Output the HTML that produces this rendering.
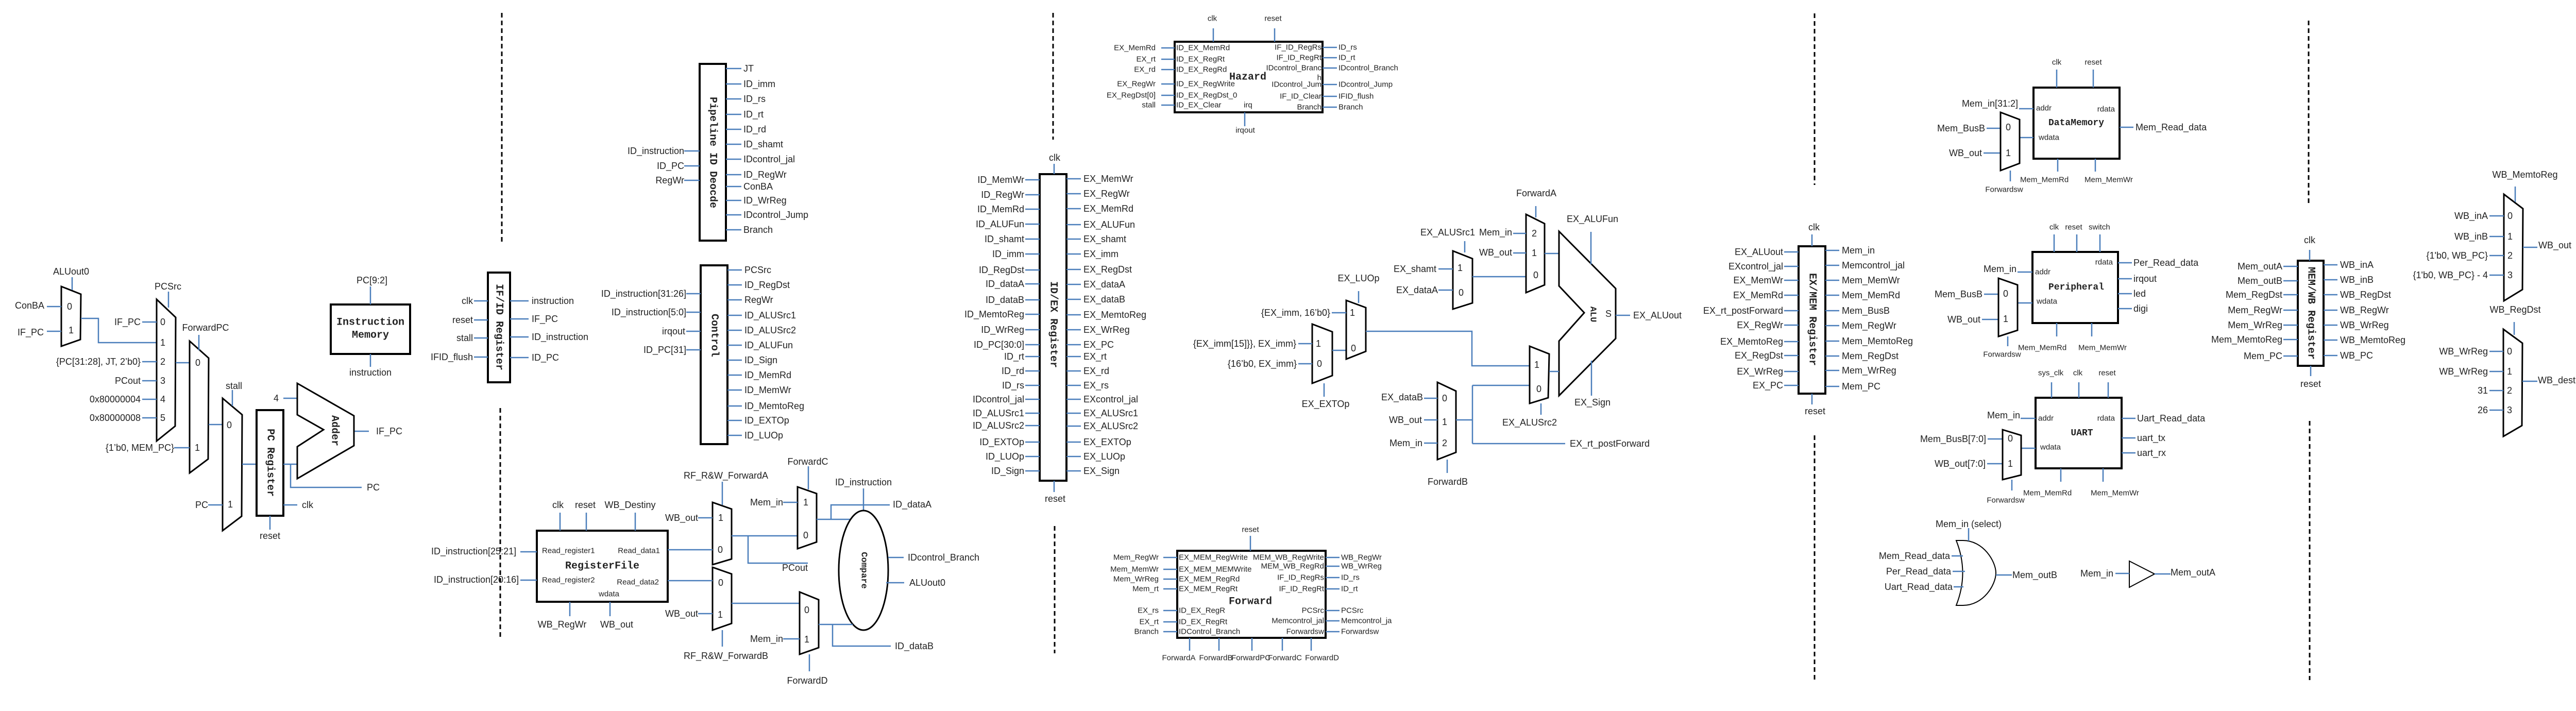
<!DOCTYPE html>
<html><head><meta charset="utf-8"><style>
html,body{margin:0;padding:0;background:#fff}
svg{display:block}
.l{stroke:#4a7ebb;stroke-width:2.5;fill:none}
.b{stroke:#000;stroke-width:4;fill:#fff}
.x{stroke:#000;stroke-width:3;fill:#fff}
.d{stroke:#000;stroke-width:3;stroke-dasharray:9 6;fill:none}
text{font-family:"Liberation Sans",sans-serif;font-size:18px;fill:#222;dominant-baseline:central}
.e{text-anchor:end}.m{text-anchor:middle}.s{font-size:15px}
.t{font-family:"Liberation Mono","DejaVu Sans Mono",monospace;font-weight:bold;font-size:20px;text-anchor:middle}
</style></head><body>
<svg width="5066" height="1380" viewBox="0 0 5066 1380" xmlns="http://www.w3.org/2000/svg">
<path class="d" d="M974 25V475M971 792V1241M2044 25V271M2047 1021V1268M3522 26V359M3522 845V1320M4481 40V398M4483 817V1320"/>

<polygon class="x" points="119,556 157,571 156,659 119,672"/>
<text class="m" x="135" y="595">0</text><text class="m" x="138" y="641">1</text>
<path class="l" d="M140 538V563M91 595H119M91 643H119M157 618H191V665H304"/>
<text class="m" x="138" y="527">ALUout0</text>
<text class="e" x="86" y="593">ConBA</text><text class="e" x="85" y="645">IF_PC</text>

<polygon class="x" points="304,581 341,616 340,827 304,856"/>
<path class="l" d="M327 566V597M276 625H304M276 702H304M276 739H304M276 775H304M276 811H304M341 704H368"/>
<text class="m" x="326" y="556">PCSrc</text>
<text class="m" x="316" y="625">0</text><text class="m" x="316" y="665">1</text><text class="m" x="316" y="702">2</text><text class="m" x="316" y="739">3</text><text class="m" x="316" y="775">4</text><text class="m" x="316" y="811">5</text>
<text class="e" x="273" y="625">IF_PC</text><text class="e" x="273" y="702">{PC[31:28], JT, 2’b0}</text><text class="e" x="273" y="739">PCout</text><text class="e" x="273" y="775">0x80000004</text><text class="e" x="273" y="811">0x80000008</text>

<polygon class="x" points="368,662 405,695 404,891 368,918"/>
<path class="l" d="M386 650V680M338 869H368M405 824H432"/>
<text class="m" x="399" y="636">ForwardPC</text>
<text class="m" x="384" y="704">0</text><text class="m" x="383" y="869">1</text>
<text class="e" x="338" y="869">{1’b0, MEM_PC}</text>

<polygon class="x" points="432,773 470,805 469,1002 432,1030"/>
<path class="l" d="M451 757V788M404 980H432M470 901H498"/>
<text class="m" x="454" y="749">stall</text>
<text class="m" x="445" y="825">0</text><text class="m" x="447" y="979">1</text>
<text class="e" x="404" y="980">PC</text>

<rect class="b" x="498" y="796" width="52" height="205"/>
<text class="t" transform="translate(524,898) rotate(90)">PC Register</text>
<path class="l" d="M524 1001V1028M550 980H577M550 901H578M564 901V946H702M550 773H577M687 837H716"/>
<text class="m" x="524" y="1040">reset</text><text x="586" y="980">clk</text><text x="712" y="946">PC</text>
<polygon class="x" points="577,744 687,807 687,865 577,929 577,867 628,834 577,805"/>
<text class="t" transform="translate(649,836) rotate(90)">Adder</text>
<text class="m" x="536" y="773">4</text><text x="730" y="837">IF_PC</text>

<rect class="b" x="642" y="591" width="154" height="96"/>
<text class="t" x="719" y="626">Instruction</text><text class="t" x="719" y="651">Memory</text>
<path class="l" d="M719 556V591M719 687V712"/>
<text class="m" x="722" y="544">PC[9:2]</text><text class="m" x="719" y="723">instruction</text>

<rect class="b" x="947" y="529" width="43" height="213"/>
<text class="t" transform="translate(968,635) rotate(90)">IF/ID Register</text>
<path class="l" d="M920 584H947M920 621H947M920 656H947M920 693H947M990 584H1026M990 619H1026M990 654H1026M990 694H1026"/>
<text class="e" x="918" y="584">clk</text><text class="e" x="918" y="621">reset</text><text class="e" x="918" y="656">stall</text><text class="e" x="918" y="693">IFID_flush</text>
<text x="1032" y="584">instruction</text><text x="1032" y="619">IF_PC</text><text x="1032" y="654">ID_instruction</text><text x="1032" y="694">ID_PC</text>

<rect class="b" x="1358" y="124" width="51" height="343"/>
<text class="t" transform="translate(1383,296) rotate(90)">Pipeline ID Deocde</text>
<path class="l" d="M1328 293H1358M1328 322H1358M1328 350H1358M1409 133H1439M1409 163H1439M1409 192H1439M1409 222H1439M1409 251H1439M1409 280H1439M1409 309H1439M1409 339H1439M1409 362H1439M1409 389H1439M1409 417H1439M1409 446H1439"/>
<text class="e" x="1328" y="293">ID_instruction</text><text class="e" x="1328" y="322">ID_PC</text><text class="e" x="1328" y="350">RegWr</text>
<text x="1443" y="133">JT</text><text x="1443" y="163">ID_imm</text><text x="1443" y="192">ID_rs</text><text x="1443" y="222">ID_rt</text><text x="1443" y="251">ID_rd</text><text x="1443" y="280">ID_shamt</text><text x="1443" y="309">IDcontrol_jal</text><text x="1443" y="339">ID_RegWr</text><text x="1443" y="362">ConBA</text><text x="1443" y="389">ID_WrReg</text><text x="1443" y="417">IDcontrol_Jump</text><text x="1443" y="446">Branch</text>

<rect class="b" x="1360" y="515" width="52" height="347"/>
<text class="t" transform="translate(1386,651) rotate(90)">Control</text>
<path class="l" d="M1332 570H1360M1332 606H1360M1332 643H1360M1332 679H1360M1412 524H1440M1412 553H1440M1412 582H1440M1412 612H1440M1412 641H1440M1412 670H1440M1412 699H1440M1412 728H1440M1412 757H1440M1412 788H1440M1412 816H1440M1412 845H1440"/>
<text class="e" x="1332" y="570">ID_instruction[31:26]</text><text class="e" x="1332" y="606">ID_instruction[5:0]</text><text class="e" x="1330" y="643">irqout</text><text class="e" x="1332" y="679">ID_PC[31]</text>
<text x="1445" y="524">PCSrc</text><text x="1445" y="553">ID_RegDst</text><text x="1445" y="582">RegWr</text><text x="1445" y="612">ID_ALUSrc1</text><text x="1445" y="641">ID_ALUSrc2</text><text x="1445" y="670">ID_ALUFun</text><text x="1445" y="699">ID_Sign</text><text x="1445" y="728">ID_MemRd</text><text x="1445" y="757">ID_MemWr</text><text x="1445" y="788">ID_MemtoReg</text><text x="1445" y="816">ID_EXTOp</text><text x="1445" y="845">ID_LUOp</text>

<rect class="b" x="1042" y="1030" width="254" height="138"/>
<text class="s" x="1052" y="1069">Read_register1</text><text class="s e" x="1281" y="1069">Read_data1</text>
<text class="t" x="1169" y="1099">RegisterFile</text>
<text class="s" x="1052" y="1126">Read_register2</text><text class="s e" x="1279" y="1130">Read_data2</text><text class="s m" x="1182" y="1153">wdata</text>
<path class="l" d="M1087 995V1030M1138 995V1030M1233 995V1030M1106 1168V1196M1184 1168V1196M1010 1071H1042M1010 1126H1042"/>
<text class="m" x="1083" y="980">clk</text><text class="m" x="1136" y="980">reset</text><text class="m" x="1223" y="980">WB_Destiny</text>
<text class="m" x="1091" y="1212">WB_RegWr</text><text class="m" x="1197" y="1212">WB_out</text>
<text x="837" y="1070">ID_instruction[25:21]</text><text x="842" y="1125">ID_instruction[20:16]</text>

<polygon class="x" points="1383,975 1420,988 1420,1085 1383,1096"/>
<polygon class="x" points="1383,1101 1420,1114 1420,1210 1383,1223"/>
<text class="m" x="1399" y="1005">1</text><text class="m" x="1398" y="1067">0</text><text class="m" x="1399" y="1131">0</text><text class="m" x="1398" y="1193">1</text>
<path class="l" d="M1402 935V980M1402 1223V1255M1355 1005H1383M1355 1191H1383M1296 1067H1383M1296 1127H1383M1420 1040H1548M1452 1040V1093H1568M1420 1171H1552"/>
<text class="m" x="1409" y="923">RF_R&amp;W_ForwardA</text><text class="m" x="1409" y="1273">RF_R&amp;W_ForwardB</text>
<text class="e" x="1355" y="1005">WB_out</text><text class="e" x="1355" y="1191">WB_out</text>
<text class="m" x="1543" y="1102">PCout</text>

<polygon class="x" points="1548,945 1585,958 1585,1052 1548,1065"/>
<text class="m" x="1564" y="975">1</text><text class="m" x="1564" y="1039">0</text>
<path class="l" d="M1569 905V950M1520 975H1548M1585 1008H1655M1613 1008V980H1727M1676 948V992"/>
<text class="m" x="1568" y="896">ForwardC</text><text class="e" x="1520" y="975">Mem_in</text>
<text x="1733" y="979">ID_dataA</text><text class="m" x="1676" y="936">ID_instruction</text>
<ellipse cx="1676" cy="1107" rx="48" ry="116" fill="#fff" stroke="#000" stroke-width="3"/>
<text class="t" transform="translate(1676,1107) rotate(90)" style="font-size:17px">Compare</text>
<path class="l" d="M1724 1082H1754M1720 1131H1755"/>
<text x="1762" y="1082">IDcontrol_Branch</text><text x="1765" y="1131">ALUout0</text>

<polygon class="x" points="1552,1149 1589,1164 1589,1257 1552,1270"/>
<text class="m" x="1566" y="1184">0</text><text class="m" x="1566" y="1241">1</text>
<path class="l" d="M1571 1270V1303M1520 1240H1552M1589 1212H1655M1616 1212V1254H1729"/>
<text class="m" x="1567" y="1321">ForwardD</text><text class="e" x="1520" y="1240">Mem_in</text><text x="1737" y="1254">ID_dataB</text>

<rect class="b" x="2018" y="338" width="52" height="595"/>
<text class="t" transform="translate(2044,630) rotate(90)">ID/EX Register</text>
<path class="l" d="M2046 318V338M2046 933V955M1990 349H2018M1990 378H2018M1990 406H2018M1990 435H2018M1990 464H2018M1990 493H2018M1990 524H2018M1990 551H2018M1990 582H2018M1990 610H2018M1990 640H2018M1990 669H2018M1990 692H2018M1990 720H2018M1990 748H2018M1990 775H2018M1990 802H2018M1990 826H2018M1990 858H2018M1990 886H2018M1990 914H2018M2070 347H2098M2070 376H2098M2070 405H2098M2070 436H2098M2070 464H2098M2070 493H2098M2070 523H2098M2070 552H2098M2070 581H2098M2070 611H2098M2070 640H2098M2070 669H2098M2070 692H2098M2070 720H2098M2070 748H2098M2070 775H2098M2070 802H2098M2070 827H2098M2070 858H2098M2070 886H2098M2070 914H2098"/>
<text class="m" x="2047" y="306">clk</text><text class="m" x="2048" y="968">reset</text>
<text class="e" x="1988" y="349">ID_MemWr</text><text class="e" x="1988" y="378">ID_RegWr</text><text class="e" x="1988" y="406">ID_MemRd</text><text class="e" x="1988" y="435">ID_ALUFun</text><text class="e" x="1988" y="464">ID_shamt</text><text class="e" x="1988" y="493">ID_imm</text><text class="e" x="1988" y="524">ID_RegDst</text><text class="e" x="1988" y="551">ID_dataA</text><text class="e" x="1988" y="582">ID_dataB</text><text class="e" x="1988" y="610">ID_MemtoReg</text><text class="e" x="1988" y="640">ID_WrReg</text><text class="e" x="1988" y="669">ID_PC[30:0]</text><text class="e" x="1988" y="692">ID_rt</text><text class="e" x="1988" y="720">ID_rd</text><text class="e" x="1988" y="748">ID_rs</text><text class="e" x="1988" y="775">IDcontrol_jal</text><text class="e" x="1988" y="802">ID_ALUSrc1</text><text class="e" x="1988" y="826">ID_ALUSrc2</text><text class="e" x="1988" y="858">ID_EXTOp</text><text class="e" x="1988" y="886">ID_LUOp</text><text class="e" x="1988" y="914">ID_Sign</text>
<text x="2103" y="347">EX_MemWr</text><text x="2103" y="376">EX_RegWr</text><text x="2103" y="405">EX_MemRd</text><text x="2103" y="436">EX_ALUFun</text><text x="2103" y="464">EX_shamt</text><text x="2103" y="493">EX_imm</text><text x="2103" y="523">EX_RegDst</text><text x="2103" y="552">EX_dataA</text><text x="2103" y="581">EX_dataB</text><text x="2103" y="611">EX_MemtoReg</text><text x="2103" y="640">EX_WrReg</text><text x="2103" y="669">EX_PC</text><text x="2103" y="692">EX_rt</text><text x="2103" y="720">EX_rd</text><text x="2103" y="748">EX_rs</text><text x="2103" y="775">EXcontrol_jal</text><text x="2103" y="802">EX_ALUSrc1</text><text x="2103" y="827">EX_ALUSrc2</text><text x="2103" y="858">EX_EXTOp</text><text x="2103" y="886">EX_LUOp</text><text x="2103" y="914">EX_Sign</text>

<rect class="b" x="2280" y="81" width="287" height="137"/>
<text class="t" x="2422" y="150">Hazard</text>
<text class="s" x="2283" y="93">ID_EX_MemRd</text><text class="s" x="2283" y="115">ID_EX_RegRt</text><text class="s" x="2283" y="135">ID_EX_RegRd</text><text class="s" x="2283" y="163">ID_EX_RegWrite</text><text class="s" x="2283" y="185">ID_EX_RegDst_0</text><text class="s" x="2283" y="204">ID_EX_Clear</text>
<text class="s e" x="2565" y="92">IF_ID_RegRs</text><text class="s e" x="2565" y="112">IF_ID_RegRt</text><text class="s e" x="2565" y="132">IDcontrol_Branc</text><text class="s e" x="2565" y="151">h</text><text class="s e" x="2565" y="164">IDcontrol_Jum</text><text class="s e" x="2565" y="187">IF_ID_Clear</text><text class="s e" x="2565" y="208">Branch</text><text class="s" x="2414" y="204">irq</text>
<text class="s e" x="2243" y="93">EX_MemRd</text><text class="s e" x="2243" y="115">EX_rt</text><text class="s e" x="2243" y="135">EX_rd</text><text class="s e" x="2243" y="163">EX_RegWr</text><text class="s e" x="2243" y="185">EX_RegDst[0]</text><text class="s e" x="2243" y="204">stall</text>
<text class="s" x="2598" y="92">ID_rs</text><text class="s" x="2598" y="112">ID_rt</text><text class="s" x="2598" y="132">IDcontrol_Branch</text><text class="s" x="2598" y="164">IDcontrol_Jump</text><text class="s" x="2598" y="187">IFID_flush</text><text class="s" x="2598" y="208">Branch</text>
<text class="s m" x="2353" y="36">clk</text><text class="s m" x="2471" y="36">reset</text><text class="s m" x="2417" y="253">irqout</text>
<path class="l" d="M2254 93H2280M2254 115H2280M2254 135H2280M2254 163H2280M2254 185H2280M2254 204H2280M2567 92H2595M2567 112H2595M2567 132H2595M2567 164H2595M2567 187H2595M2567 208H2595M2355 55V81M2474 55V81M2416 218V245"/>

<rect class="b" x="2285" y="1069" width="288" height="169"/>
<text class="t" x="2427" y="1168">Forward</text>
<text class="s" x="2288" y="1082">EX_MEM_RegWrite</text><text class="s" x="2288" y="1105">EX_MEM_MEMWrite</text><text class="s" x="2288" y="1124">EX_MEM_RegRd</text><text class="s" x="2288" y="1143">EX_MEM_RegRt</text><text class="s" x="2288" y="1185">ID_EX_RegR</text><text class="s" x="2288" y="1207">ID_EX_RegRt</text><text class="s" x="2288" y="1226">IDControl_Branch</text>
<text class="s e" x="2570" y="1082">MEM_WB_RegWrite</text><text class="s e" x="2570" y="1099">MEM_WB_RegRd</text><text class="s e" x="2570" y="1121">IF_ID_RegRs</text><text class="s e" x="2570" y="1143">IF_ID_RegRt</text><text class="s e" x="2570" y="1185">PCSrc</text><text class="s e" x="2570" y="1205">Memcontrol_jal</text><text class="s e" x="2570" y="1226">Forwardsw</text>
<text class="s e" x="2249" y="1082">Mem_RegWr</text><text class="s e" x="2249" y="1105">Mem_MemWr</text><text class="s e" x="2249" y="1124">Mem_WrReg</text><text class="s e" x="2249" y="1143">Mem_rt</text><text class="s e" x="2249" y="1185">EX_rs</text><text class="s e" x="2249" y="1207">EX_rt</text><text class="s e" x="2249" y="1226">Branch</text>
<text class="s" x="2603" y="1082">WB_RegWr</text><text class="s" x="2603" y="1099">WB_WrReg</text><text class="s" x="2603" y="1121">ID_rs</text><text class="s" x="2603" y="1143">ID_rt</text><text class="s" x="2603" y="1185">PCSrc</text><text class="s" x="2603" y="1205">Memcontrol_ja</text><text class="s" x="2603" y="1226">Forwardsw</text>
<text class="s m" x="2427" y="1028">reset</text>
<text class="s m" x="2288" y="1277">ForwardA</text><text class="s m" x="2360" y="1277">ForwardB</text><text class="s m" x="2428" y="1277">ForwardPC</text><text class="s m" x="2494" y="1277">ForwardC</text><text class="s m" x="2566" y="1277">ForwardD</text>
<path class="l" d="M2258 1082H2285M2258 1105H2285M2258 1124H2285M2258 1143H2285M2258 1185H2285M2258 1207H2285M2258 1226H2285M2573 1082H2600M2573 1099H2600M2573 1121H2600M2573 1143H2600M2573 1185H2600M2573 1205H2600M2573 1226H2600M2427 1040V1069M2309 1238V1263M2366 1238V1263M2430 1238V1263M2489 1238V1263M2545 1238V1263"/>

<polygon class="x" points="2547,629 2586,644 2586,729 2547,744"/>
<text class="m" x="2559" y="667">1</text><text class="m" x="2561" y="706">0</text>
<path class="l" d="M2520 667H2547M2520 706H2547M2570 744V770M2586 680H2613"/>
<text class="e" x="2516" y="667">{EX_imm[15]}}, EX_imm}</text><text class="e" x="2517" y="706">{16’b0, EX_imm}</text>
<text class="m" x="2573" y="784">EX_EXTOp</text>
<polygon class="x" points="2613,583 2651,597 2651,682 2613,697"/>
<text class="m" x="2625" y="607">1</text><text class="m" x="2627" y="676">0</text>
<path class="l" d="M2585 607H2613M2637 565V588M2651 643H2857V710H2969"/>
<text class="e" x="2582" y="607">{EX_imm, 16’b0}</text><text class="m" x="2637" y="540">EX_LUOp</text>

<polygon class="x" points="2820,487 2858,502 2858,588 2820,600"/>
<text class="m" x="2834" y="520">1</text><text class="m" x="2836" y="568">0</text>
<path class="l" d="M2792 522H2820M2792 563H2820M2843 468V490M2858 537H2962"/>
<text class="e" x="2788" y="522">EX_shamt</text><text class="e" x="2791" y="563">EX_dataA</text><text class="m" x="2810" y="451">EX_ALUSrc1</text>

<polygon class="x" points="2962,416 2998,434 2998,553 2962,568"/>
<text class="m" x="2978" y="453">2</text><text class="m" x="2978" y="491">1</text><text class="m" x="2981" y="534">0</text>
<path class="l" d="M2937 453H2962M2937 491H2962M2981 400V422M2998 492H3026"/>
<text class="e" x="2935" y="451">Mem_in</text><text class="e" x="2935" y="490">WB_out</text><text class="m" x="2982" y="375">ForwardA</text>

<polygon class="x" points="3026,449 3136,560 3136,657 3026,768 3026,662 3075,607 3026,555"/>
<text class="t" transform="translate(3091,610) rotate(90)" style="font-size:17px">ALU</text>
<text class="m" x="3122" y="609">S</text>
<path class="l" d="M3088 450V513M3089 700V768M3136 612H3164"/>
<text class="m" x="3091" y="425">EX_ALUFun</text><text class="m" x="3091" y="781">EX_Sign</text><text x="3170" y="612">EX_ALUout</text>

<polygon class="x" points="2790,742 2826,759 2826,878 2790,892"/>
<text class="m" x="2804" y="773">0</text><text class="m" x="2804" y="819">1</text><text class="m" x="2804" y="860">2</text>
<path class="l" d="M2764 773H2790M2764 815H2790M2764 860H2790M2809 892V918M2826 815H2858M2858 748V861M2858 748H2969M2858 861H3038"/>
<text class="e" x="2762" y="771">EX_dataB</text><text class="e" x="2760" y="815">WB_out</text><text class="e" x="2761" y="860">Mem_in</text><text class="m" x="2810" y="935">ForwardB</text>
<polygon class="x" points="2969,672 3007,687 3005,772 2969,783"/>
<text class="m" x="2983" y="708">1</text><text class="m" x="2987" y="755">0</text>
<path class="l" d="M2991 783V805M3007 721H3026"/>
<text class="m" x="2969" y="820">EX_ALUSrc2</text><text x="3047" y="861">EX_rt_postForward</text>

<rect class="b" x="3491" y="478" width="52" height="286"/>
<text class="t" transform="translate(3517,620) rotate(90)">EX/MEM Register</text>
<path class="l" d="M3517 455V478M3517 764V785M3463 489H3491M3463 517H3491M3463 544H3491M3463 573H3491M3463 603H3491M3463 631H3491M3463 663H3491M3463 690H3491M3463 721H3491M3463 748H3491M3543 486H3570M3543 515H3570M3543 544H3570M3543 573H3570M3543 603H3570M3543 632H3570M3543 662H3570M3543 691H3570M3543 719H3570M3543 750H3570"/>
<text class="m" x="3521" y="441">clk</text><text class="m" x="3523" y="798">reset</text>
<text class="e" x="3461" y="489">EX_ALUout</text><text class="e" x="3461" y="517">EXcontrol_jal</text><text class="e" x="3461" y="544">EX_MemWr</text><text class="e" x="3461" y="573">EX_MemRd</text><text class="e" x="3461" y="603">EX_rt_postForward</text><text class="e" x="3461" y="631">EX_RegWr</text><text class="e" x="3461" y="663">EX_MemtoReg</text><text class="e" x="3461" y="690">EX_RegDst</text><text class="e" x="3461" y="721">EX_WrReg</text><text class="e" x="3461" y="748">EX_PC</text>
<text x="3575" y="486">Mem_in</text><text x="3575" y="515">Memcontrol_jal</text><text x="3575" y="544">Mem_MemWr</text><text x="3575" y="573">Mem_MemRd</text><text x="3575" y="603">Mem_BusB</text><text x="3575" y="632">Mem_RegWr</text><text x="3575" y="662">Mem_MemtoReg</text><text x="3575" y="691">Mem_RegDst</text><text x="3575" y="719">Mem_WrReg</text><text x="3575" y="750">Mem_PC</text>

<rect class="b" x="3947" y="170" width="167" height="138"/>
<text class="t" x="4030" y="239" style="font-size:18px">DataMemory</text>
<text class="s" x="3952" y="210">addr</text><text class="s" x="3957" y="267">wdata</text><text class="s e" x="4105" y="212">rdata</text>
<path class="l" d="M3992 135V170M4063 135V170M3994 308V333M4067 308V333M3919 211H3947M4114 247H4141M3856 249H3883M3850 297H3883M3902 331V352M3920 267H3947"/>
<text class="s m" x="3992" y="121">clk</text><text class="s m" x="4063" y="121">reset</text>
<text class="s" x="3921" y="349">Mem_MemRd</text><text class="s" x="4046" y="349">Mem_MemWr</text>
<text class="e" x="3917" y="201">Mem_in[31:2]</text><text x="4145" y="247">Mem_Read_data</text>
<polygon class="x" points="3883,218 3920,232 3920,317 3883,331"/>
<text class="m" x="3898" y="247">0</text><text class="m" x="3898" y="297">1</text>
<text class="e" x="3853" y="249">Mem_BusB</text><text class="e" x="3847" y="297">WB_out</text><text class="s m" x="3890" y="368">Forwardsw</text>

<rect class="b" x="3945" y="489" width="166" height="138"/>
<text class="t" x="4030" y="558" style="font-size:18px">Peripheral</text>
<text class="s" x="3950" y="528">addr</text><text class="s" x="3953" y="585">wdata</text><text class="s e" x="4101" y="509">rdata</text>
<path class="l" d="M3987 455V489M4031 455V489M4076 455V489M4111 510H4138M4111 541H4138M4111 570H4138M4111 599H4138M3992 627V653M4060 627V653M3916 528H3945M3851 571H3879M3847 620H3879M3897 653V672M3916 588H3945"/>
<text class="s m" x="3987" y="441">clk</text><text class="s m" x="4025" y="441">reset</text><text class="s" x="4054" y="441">switch</text>
<text x="4141" y="510">Per_Read_data</text><text x="4141" y="541">irqout</text><text x="4141" y="570">led</text><text x="4141" y="599">digi</text>
<text class="s" x="3917" y="675">Mem_MemRd</text><text class="s" x="4034" y="675">Mem_MemWr</text>
<text class="e" x="3914" y="522">Mem_in</text>
<polygon class="x" points="3879,540 3916,553 3916,641 3879,653"/>
<text class="m" x="3893" y="570">0</text><text class="m" x="3893" y="619">1</text>
<text class="e" x="3848" y="571">Mem_BusB</text><text class="e" x="3844" y="620">WB_out</text><text class="s m" x="3886" y="688">Forwardsw</text>

<rect class="b" x="3951" y="772" width="167" height="137"/>
<text class="t" x="4041" y="841" style="font-size:18px">UART</text>
<text class="s" x="3956" y="812">addr</text><text class="s" x="3960" y="868">wdata</text><text class="s e" x="4105" y="812">rdata</text>
<path class="l" d="M3982 742V772M4035 742V772M4092 742V772M4118 812H4145M4118 850H4145M4118 879H4145M4000 909V935M4082 909V935M3922 812H3951M3858 852H3887M3857 900H3887M3905 931V952M3923 870H3951"/>
<text class="s" x="3956" y="724">sys_clk</text><text class="s m" x="4033" y="724">clk</text><text class="s m" x="4090" y="724">reset</text>
<text x="4148" y="812">Uart_Read_data</text><text x="4148" y="850">uart_tx</text><text x="4148" y="879">uart_rx</text>
<text class="s" x="3927" y="957">Mem_MemRd</text><text class="s" x="4058" y="957">Mem_MemWr</text>
<text class="e" x="3921" y="806">Mem_in</text>
<polygon class="x" points="3887,834 3923,845 3923,922 3887,931"/>
<text class="m" x="3902" y="851">0</text><text class="m" x="3902" y="900">1</text>
<text class="e" x="3855" y="852">Mem_BusB[7:0]</text><text class="e" x="3854" y="900">WB_out[7:0]</text><text class="s m" x="3893" y="971">Forwardsw</text>

<path d="M3797 1049H3810C3850 1049 3874 1090 3874 1112C3874 1135 3850 1175 3810 1175H3797Q3822 1112 3797 1049Z" fill="#fff" stroke="#000" stroke-width="2"/>
<path class="l" d="M3821 1025V1050M3788 1079H3810M3790 1109H3814M3792 1139H3811M3874 1116H3905"/>
<text class="m" x="3821" y="1017">Mem_in (select)</text>
<text class="e" x="3785" y="1079">Mem_Read_data</text><text class="e" x="3787" y="1109">Per_Read_data</text><text class="e" x="3790" y="1139">Uart_Read_data</text>
<text x="3906" y="1116">Mem_outB</text>

<polygon points="4133,1089 4182,1114 4133,1140" fill="#fff" stroke="#000" stroke-width="2"/>
<path class="l" d="M4106 1113H4133M4182 1114H4213"/>
<text class="e" x="4102" y="1113">Mem_in</text><text x="4213" y="1111">Mem_outA</text>

<rect class="b" x="4460" y="506" width="50" height="204"/>
<text class="t" transform="translate(4485,608) rotate(90)">MEM/WB Register</text>
<path class="l" d="M4483 485V506M4485 710V730M4432 517H4460M4432 545H4460M4432 572H4460M4432 602H4460M4432 631H4460M4432 659H4460M4432 691H4460M4510 514H4537M4510 543H4537M4510 572H4537M4510 602H4537M4510 631H4537M4510 660H4537M4510 690H4537"/>
<text class="m" x="4483" y="466">clk</text><text class="m" x="4485" y="745">reset</text>
<text class="e" x="4430" y="517">Mem_outA</text><text class="e" x="4430" y="545">Mem_outB</text><text class="e" x="4430" y="572">Mem_RegDst</text><text class="e" x="4430" y="602">Mem_RegWr</text><text class="e" x="4430" y="631">Mem_WrReg</text><text class="e" x="4430" y="659">Mem_MemtoReg</text><text class="e" x="4430" y="691">Mem_PC</text>
<text x="4542" y="514">WB_inA</text><text x="4542" y="543">WB_inB</text><text x="4542" y="572">WB_RegDst</text><text x="4542" y="602">WB_RegWr</text><text x="4542" y="631">WB_WrReg</text><text x="4542" y="660">WB_MemtoReg</text><text x="4542" y="690">WB_PC</text>

<polygon class="x" points="4860,377 4897,405 4896,562 4860,584"/>
<text class="m" x="4872" y="419">0</text><text class="m" x="4872" y="459">1</text><text class="m" x="4872" y="496">2</text><text class="m" x="4872" y="534">3</text>
<path class="l" d="M4832 419H4860M4832 459H4860M4832 496H4860M4832 534H4860M4882 362V392M4897 480H4925"/>
<text class="e" x="4829" y="419">WB_inA</text><text class="e" x="4829" y="459">WB_inB</text><text class="e" x="4829" y="496">{1'b0, WB_PC}</text><text class="e" x="4829" y="534">{1'b0, WB_PC} - 4</text>
<text class="m" x="4901" y="339">WB_MemtoReg</text><text x="4927" y="476">WB_out</text>

<polygon class="x" points="4859,639 4896,666 4895,826 4859,847"/>
<text class="m" x="4871" y="682">0</text><text class="m" x="4871" y="721">1</text><text class="m" x="4871" y="758">2</text><text class="m" x="4871" y="796">3</text>
<path class="l" d="M4832 682H4859M4832 721H4859M4832 758H4859M4832 796H4859M4880 625V650M4896 740H4925"/>
<text class="e" x="4829" y="682">WB_WrReg</text><text class="e" x="4829" y="721">WB_WrReg</text><text class="e" x="4829" y="758">31</text><text class="e" x="4829" y="796">26</text>
<text class="m" x="4882" y="601">WB_RegDst</text><text x="4926" y="738">WB_destiny</text>
</svg>
</body></html>
